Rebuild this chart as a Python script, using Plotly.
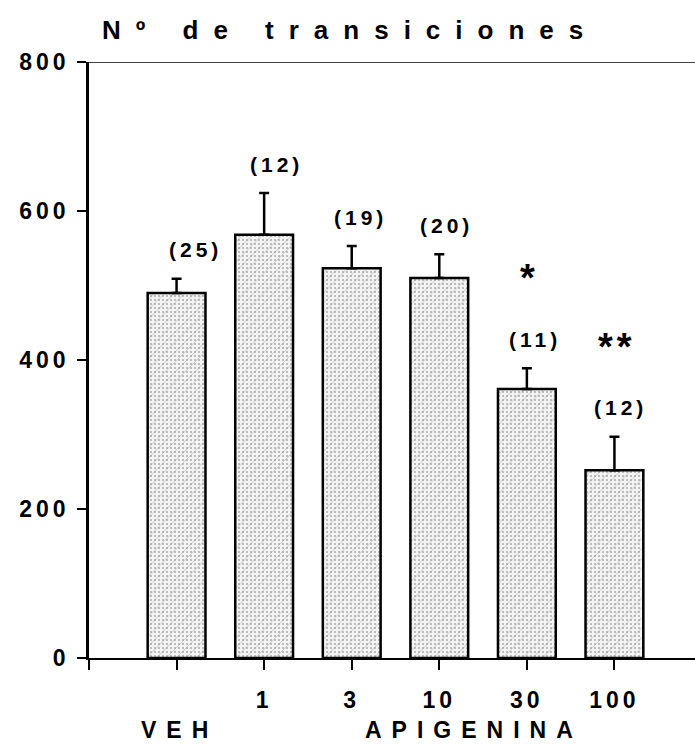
import plotly.graph_objects as go

# Number of transitions per treatment group (mean ± SEM)
groups = ["VEH", "1", "3", "10", "30", "100"]
mean_transitions = [490, 568, 523, 510, 361, 252]
sem_transitions = [19, 56, 30, 32, 28, 45]
n_labels = ["(25)", "(12)", "(19)", "(20)", "(11)", "(12)"]
significance = ["", "", "", "", "*", "**"]

y_tick_values = [0, 200, 400, 600, 800]
x_tick_labels = ["", "", "1", "3", "10", "30", "100"]

# horizontal nudges (px) for the n labels
n_label_dx = [19, 12, 9, 7, 8, 6]

FONT = "Liberation Sans, Arial, sans-serif"
positions = list(range(len(groups)))

fig = go.Figure()

# dotted texture
fig.add_trace(go.Bar(
    x=positions, y=mean_transitions, width=0.66,
    marker=dict(color="white",
                pattern=dict(shape=".", bgcolor="#f4f4f4", fgcolor="#6a6a6a",
                             size=4, solidity=0.22),
                line=dict(width=0)),
    hoverinfo="skip", showlegend=False,
))
# hatched texture, outline and error bars
fig.add_trace(go.Bar(
    x=positions, y=mean_transitions, width=0.66,
    marker=dict(color="rgba(0,0,0,0)",
                pattern=dict(shape="/", bgcolor="rgba(0,0,0,0)", fgcolor="#8a8a8a",
                             size=7, solidity=0.12, fillmode="overlay"),
                line=dict(width=2.5, color="black")),
    error_y=dict(type="data", symmetric=False, array=sem_transitions,
                 arrayminus=[0] * len(groups), color="black", thickness=2.5, width=5),
    showlegend=False,
))

annotations = []
for i, (m, s, lab) in enumerate(zip(mean_transitions, sem_transitions, n_labels)):
    annotations.append(dict(
        x=i, y=m + s, xref="x", yref="y", text=lab, showarrow=False,
        yanchor="middle", yshift=29, xshift=n_label_dx[i],
        font=dict(family=FONT, size=21, color="black", weight="bold"),
    ))
for i, (m, s, sig) in enumerate(zip(mean_transitions, sem_transitions, significance)):
    if sig:
        annotations.append(dict(
            x=i, y=m + s, xref="x", yref="y", text=sig, showarrow=False,
            yanchor="middle", yshift=90, xshift=3,
            font=dict(family=FONT, size=38, color="black", weight="bold"),
        ))

annotations += [
    dict(x=0.43, y=1.053, xref="paper", yref="paper", text="Nº de transiciones",
         showarrow=False, xanchor="center", yanchor="middle",
         font=dict(family=FONT, size=26, color="black", weight="bold")),
    dict(x=0.03, y=-0.121, xref="x", yref="paper", text="VEH", showarrow=False,
         xanchor="center", yanchor="middle",
         font=dict(family=FONT, size=23, color="black", weight="bold")),
    dict(x=3.40, y=-0.121, xref="x", yref="paper", text="APIGENINA", showarrow=False,
         xanchor="center", yanchor="middle",
         font=dict(family=FONT, size=23, color="black", weight="bold")),
]

fig.update_layout(
    width=695, height=746,
    margin=dict(l=89, r=0, t=62, b=88),
    paper_bgcolor="white", plot_bgcolor="white",
    barmode="overlay",
    annotations=annotations,
    shapes=[dict(type="line", xref="x", yref="y", x0=-1, x1=5.92, y0=800, y1=800,
                 line=dict(color="black", width=1.5), layer="below")],
)
fig.update_xaxes(
    range=[-1, 5.92], tickvals=list(range(-1, 6)), ticktext=x_tick_labels,
    showline=True, linecolor="black", linewidth=2,
    ticks="outside", ticklen=10, tickwidth=2, tickcolor="black",
    showgrid=False, zeroline=False, ticklabelstandoff=10,
    tickfont=dict(family=FONT, size=23, color="black", weight="bold"),
)
fig.update_yaxes(
    range=[0, 800], tickvals=y_tick_values,
    showline=True, linecolor="black", linewidth=2.5,
    ticks="outside", ticklen=9, tickwidth=2, tickcolor="black",
    showgrid=False, zeroline=False, ticklabelstandoff=3,
    tickfont=dict(family=FONT, size=23, color="black", weight="bold"),
)

letter_spacing_css = (
    "<style>"
    ".xtick text, .ytick text {letter-spacing: 4px;}"
    ".annotation text {letter-spacing: 4px;}"
    ".annotation[data-index='8'] text {letter-spacing: 15px;}"
    ".annotation[data-index='9'] text, .annotation[data-index='10'] text {letter-spacing: 10px;}"
    "</style>"
)
fig.write_html("out.html",
               post_script="document.head.insertAdjacentHTML('beforeend', \"%s\");" % letter_spacing_css)
